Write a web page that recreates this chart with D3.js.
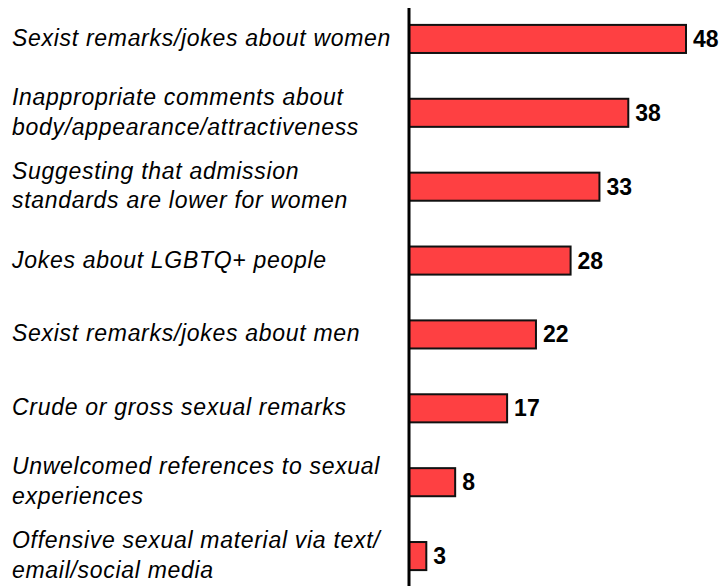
<!DOCTYPE html>
<html>
<head>
<meta charset="utf-8">
<script src="https://cdn.jsdelivr.net/npm/d3@7"></script>
<style>
  html, body { margin: 0; padding: 0; background: #fff; }
  svg { display: block; }
</style>
</head>
<body>
<svg id="chart" width="721" height="586"></svg>
<script>
// Survey items (each label split into display lines) and percentages
const categories = [
  ["Sexist remarks/jokes about women"],
  ["Inappropriate comments about", "body/appearance/attractiveness"],
  ["Suggesting that admission", "standards are lower for women"],
  ["Jokes about LGBTQ+ people"],
  ["Sexist remarks/jokes about men"],
  ["Crude or gross sexual remarks"],
  ["Unwelcomed references to sexual", "experiences"],
  ["Offensive sexual material via text/", "email/social media"]
];
const values = [48, 38, 33, 28, 22, 17, 8, 3];

const width = 721, height = 586;
const axisX = 409;
const svg = d3.select("#chart");

const keys = categories.map((c, i) => i);

const x = d3.scaleLinear().domain([0, 48]).range([axisX, 686]);
const y = d3.scaleBand()
  .domain(keys)
  .range([2, 593])
  .paddingInner(0.62)
  .paddingOuter(0.31);

// Bars
svg.append("g")
  .selectAll("rect")
  .data(values)
  .join("rect")
  .attr("x", x(0))
  .attr("y", (d, i) => y(i))
  .attr("width", d => x(d) - x(0))
  .attr("height", y.bandwidth())
  .attr("fill", "#fe4042")
  .attr("stroke", "#111")
  .attr("stroke-width", 2);

// Value labels
svg.append("g")
  .selectAll("text")
  .data(values)
  .join("text")
  .attr("x", d => x(d) + 7)
  .attr("y", (d, i) => y(i) + y.bandwidth() / 2 + 8)
  .attr("font-family", "'Liberation Sans', Arial, sans-serif")
  .attr("font-weight", "bold")
  .attr("font-size", 23)
  .attr("fill", "#000")
  .text(d => d);

// Category labels
const lineH = 29.6;
const labels = svg.append("g")
  .selectAll("text")
  .data(categories)
  .join("text")
  .attr("font-family", "'Liberation Sans', Arial, sans-serif")
  .attr("font-style", "italic")
  .attr("font-size", 23)
  .attr("letter-spacing", 0.7)
  .attr("fill", "#000");

labels.each(function(lines, i) {
  const cy = y(i) + y.bandwidth() / 2;
  const first = cy + 7 - (lines.length - 1) * lineH / 2;
  d3.select(this).selectAll("tspan")
    .data(lines)
    .join("tspan")
    .attr("x", 12)
    .attr("y", (l, j) => first + j * lineH)
    .text(l => l);
});

// Vertical baseline axis
svg.append("line")
  .attr("x1", axisX).attr("x2", axisX)
  .attr("y1", 8).attr("y2", height)
  .attr("stroke", "#000")
  .attr("stroke-width", 3);
</script>
</body>
</html>
